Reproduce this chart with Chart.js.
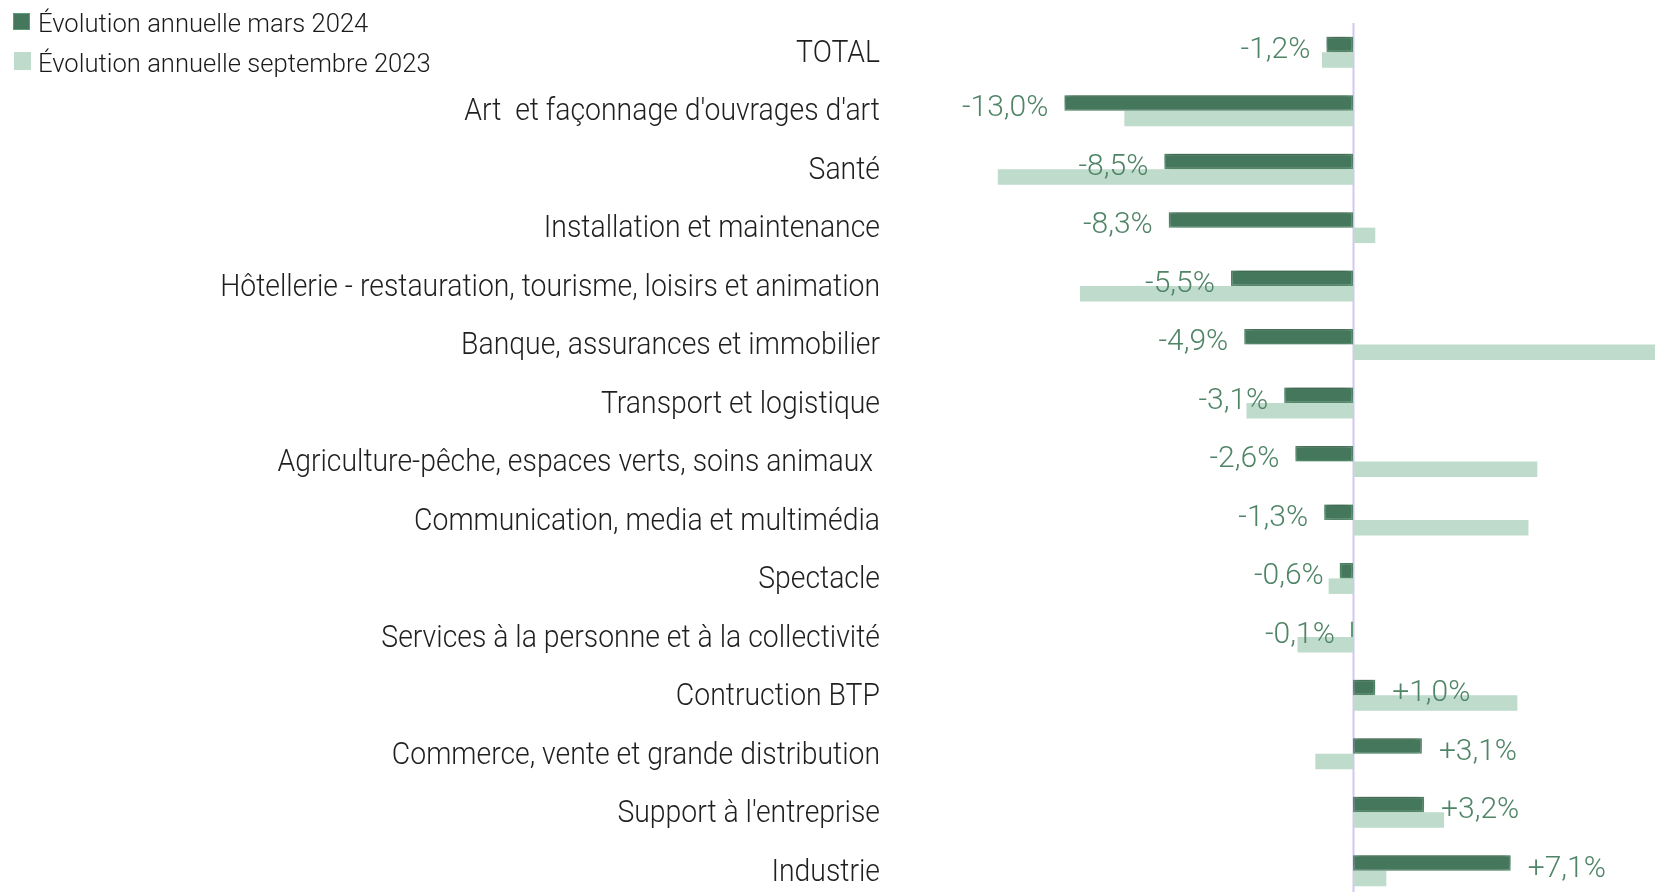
<!DOCTYPE html>
<html lang="fr">
<head>
<meta charset="utf-8">
<title>Évolution annuelle par domaine professionnel</title>
<script src="https://cdn.jsdelivr.net/npm/chart.js"></script>
<style>
  html, body { margin:0; padding:0; background:#fff; overflow:hidden; }
  #zone { position:relative; width:1655px; height:900px; }
  #graf { position:absolute; left:0; top:0; }
  .carre { position:absolute; width:17px; height:17px; box-sizing:border-box; }
  .leg { position:absolute; left:38px; font:300 25.6px Roboto, sans-serif; color:#1a1a1a; white-space:nowrap; line-height:30px; }
</style>
</head>
<body>
<div id="zone">
  <canvas id="graf" width="1655" height="900"></canvas>
  <div class="carre" style="left:13px;top:13px;background:#44775c;border:1.5px solid #5d9c77;"></div>
  <div class="leg" style="top:8px;">Évolution annuelle mars 2024</div>
  <div class="carre" style="left:14px;top:52px;height:18px;background:#bfdbcb;"></div>
  <div class="leg" style="top:48px;">Évolution annuelle septembre 2023</div>
</div>
<script>
// Données (en %)
const domaines = [
  "TOTAL",
  "Art  et façonnage d'ouvrages d'art",
  "Santé",
  "Installation et maintenance",
  "Hôtellerie - restauration, tourisme, loisirs et animation",
  "Banque, assurances et immobilier",
  "Transport et logistique",
  "Agriculture-pêche, espaces verts, soins animaux ",
  "Communication, media et multimédia",
  "Spectacle",
  "Services à la personne et à la collectivité",
  "Contruction BTP",
  "Commerce, vente et grande distribution",
  "Support à l'entreprise",
  "Industrie"
];
const evolMars2024 = [-1.2, -13.0, -8.5, -8.3, -5.5, -4.9, -3.1, -2.6, -1.3, -0.6, -0.1, 1.0, 3.1, 3.2, 7.1];
const evolSept2023 = [-1.4, -10.3, -16.0, 1.0, -12.3, 15.0, -4.8, 8.3, 7.9, -1.1, -2.5, 7.4, -1.7, 4.1, 1.5];
const borneMin = -20;
const borneMax = 13.6;

const vertFonce = "#44775c";
const vertClair = "#bfdbcb";
const couleurTexte = "#4f8466";

function formatPct(v) {
  const s = Math.abs(v).toFixed(1).replace(".", ",");
  return (v > 0 ? "+" : "-") + s + "%";
}

// ligne verticale du zéro
const ligneZero = {
  id: "ligneZero",
  beforeDatasetsDraw(chart) {
    const { ctx, chartArea, scales: { x } } = chart;
    const px = Math.round(x.getPixelForValue(0)) + 0.5;
    ctx.save();
    ctx.strokeStyle = "#d3c6f4";
    ctx.lineWidth = 2;
    ctx.beginPath();
    ctx.moveTo(px, chartArea.top);
    ctx.lineTo(px, chartArea.bottom);
    ctx.stroke();
    ctx.restore();
  }
};

// ombre sous les barres foncées
const ombre = {
  id: "ombre",
  beforeDatasetDraw(chart, args) {
    if (args.index !== 0) return;
    const ctx = chart.ctx;
    ctx.save();
    ctx.shadowColor = "rgba(0,0,0,0.5)";
    ctx.shadowBlur = 10;
    ctx.shadowOffsetY = -2;
  },
  afterDatasetDraw(chart, args) {
    if (args.index !== 0) return;
    chart.ctx.restore();
  }
};

// libellés des domaines (texte resserré) + valeurs mars 2024
const libelles = {
  id: "libelles",
  afterDraw(chart) {
    const { ctx, scales: { y } } = chart;
    ctx.save();
    ctx.font = "300 31px Roboto, sans-serif";
    ctx.fillStyle = "#1f1f1f";
    ctx.textAlign = "right";
    ctx.textBaseline = "middle";
    domaines.forEach((nom, i) => {
      ctx.save();
      ctx.translate(880, y.getPixelForTick(i) + 2);
      ctx.scale(0.915, 1);
      ctx.fillText(nom, 0, 0);
      ctx.restore();
    });

    const meta = chart.getDatasetMeta(0);
    ctx.font = "300 30px Roboto, sans-serif";
    ctx.fillStyle = couleurTexte;
    meta.data.forEach((bar, i) => {
      const v = evolMars2024[i];
      if (v < 0) {
        ctx.textAlign = "right";
        ctx.fillText(formatPct(v), bar.x - 16, bar.y + 6);
      } else {
        ctx.textAlign = "left";
        ctx.fillText(formatPct(v), bar.x + 17, bar.y + 6);
      }
    });
    ctx.restore();
  }
};

new Chart(document.getElementById("graf"), {
  type: "bar",
  data: {
    labels: domaines,
    datasets: [
      {
        label: "Évolution annuelle mars 2024",
        data: evolMars2024,
        backgroundColor: vertFonce,
        borderColor: "#5d9c77",
        borderWidth: 1.5,
        borderSkipped: false
      },
      {
        label: "Évolution annuelle septembre 2023",
        data: evolSept2023,
        backgroundColor: vertClair,
        borderWidth: 0
      }
    ]
  },
  options: {
    indexAxis: "y",
    responsive: false,
    animation: false,
    devicePixelRatio: 1,
    categoryPercentage: 0.53,
    barPercentage: 1.0,
    layout: { padding: { top: 23, right: 0, bottom: 0, left: 0 } },
    plugins: {
      legend: { display: false },
      tooltip: { enabled: false }
    },
    scales: {
      x: { display: false, min: borneMin, max: borneMax },
      y: {
        grid: { display: false, drawTicks: false },
        border: { display: false },
        ticks: { display: false },
        afterFit(scale) { scale.width = 909; }
      }
    }
  },
  plugins: [ligneZero, ombre, libelles]
});
</script>
</body>
</html>
